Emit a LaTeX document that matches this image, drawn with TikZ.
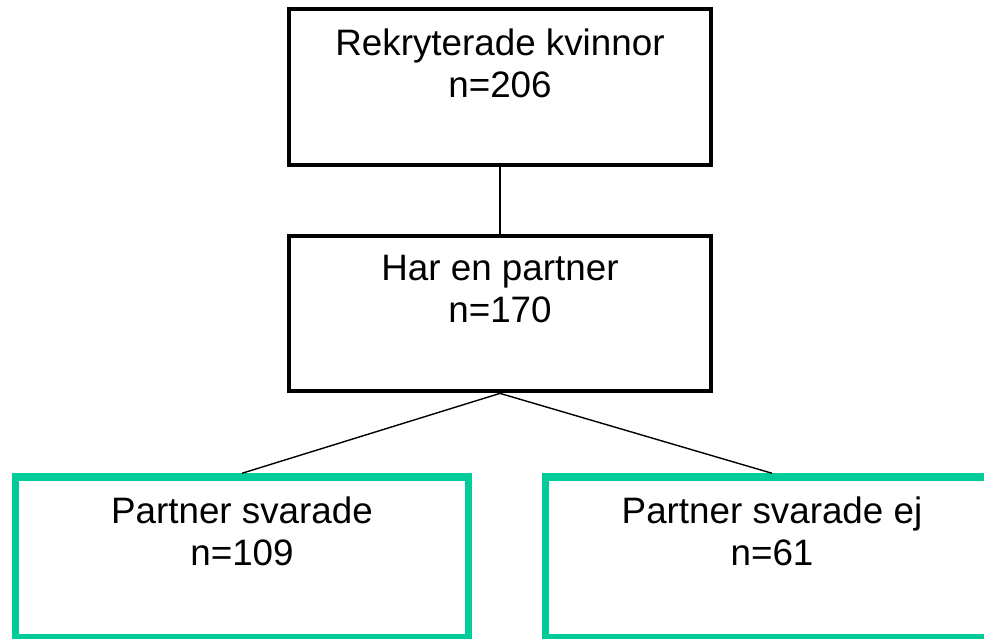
\documentclass[tikz,border=0pt]{standalone}
\usepackage{fontspec}
\setmainfont{Liberation Sans}
\usetikzlibrary{positioning}
\definecolor{svargron}{RGB}{0,204,153}

\begin{document}
\begin{tikzpicture}[x=0.03cm, y=-0.03cm, node distance=2cm, on grid,
    box/.style={draw, rectangle, line width=3.6pt, minimum width=12.66cm, minimum height=4.665cm},
    gronbox/.style={draw=svargron, rectangle, line width=6.4pt, minimum width=13.6cm, minimum height=4.83cm},
    txt/.style={font=\fontsize{31.4pt}{35.8pt}\selectfont, align=center, inner sep=0pt},
    lnk/.style={line width=1.2pt}]
	\clip (0,0) rectangle (984,638);
	\node[box]								(R) at (500,87)						{};
	\node[box]								(P) [below=6.795cm of R]			{};
	\node[gronbox]							(S) [below left=7.32cm and 7.74cm of P]	{};
	\node[gronbox]							(E) [below right=7.32cm and 8.16cm of P]	{};
	
	%Texter:
	\node[txt]	(Rt) [below=0.648cm of R.north, anchor=north]	{Rekryterade kvinnor\\n=206};
	\node[txt]	(Pt) [below=0.648cm of P.north, anchor=north]	{Har en partner\\n=170};
	\node[txt]	(St) [below=0.70cm of S.north, anchor=north]	{Partner svarade\\n=109};
	\node[txt]	(Et) [below=0.70cm of E.north, anchor=north]	{Partner svarade ej\\n=61};
	
	%Linjer:
	\draw[lnk] (R.south) -- (P.north);
	\draw[lnk] (P.south) -- (S.north);
	\draw[lnk] (P.south) -- (E.north);
\end{tikzpicture}
\end{document}
